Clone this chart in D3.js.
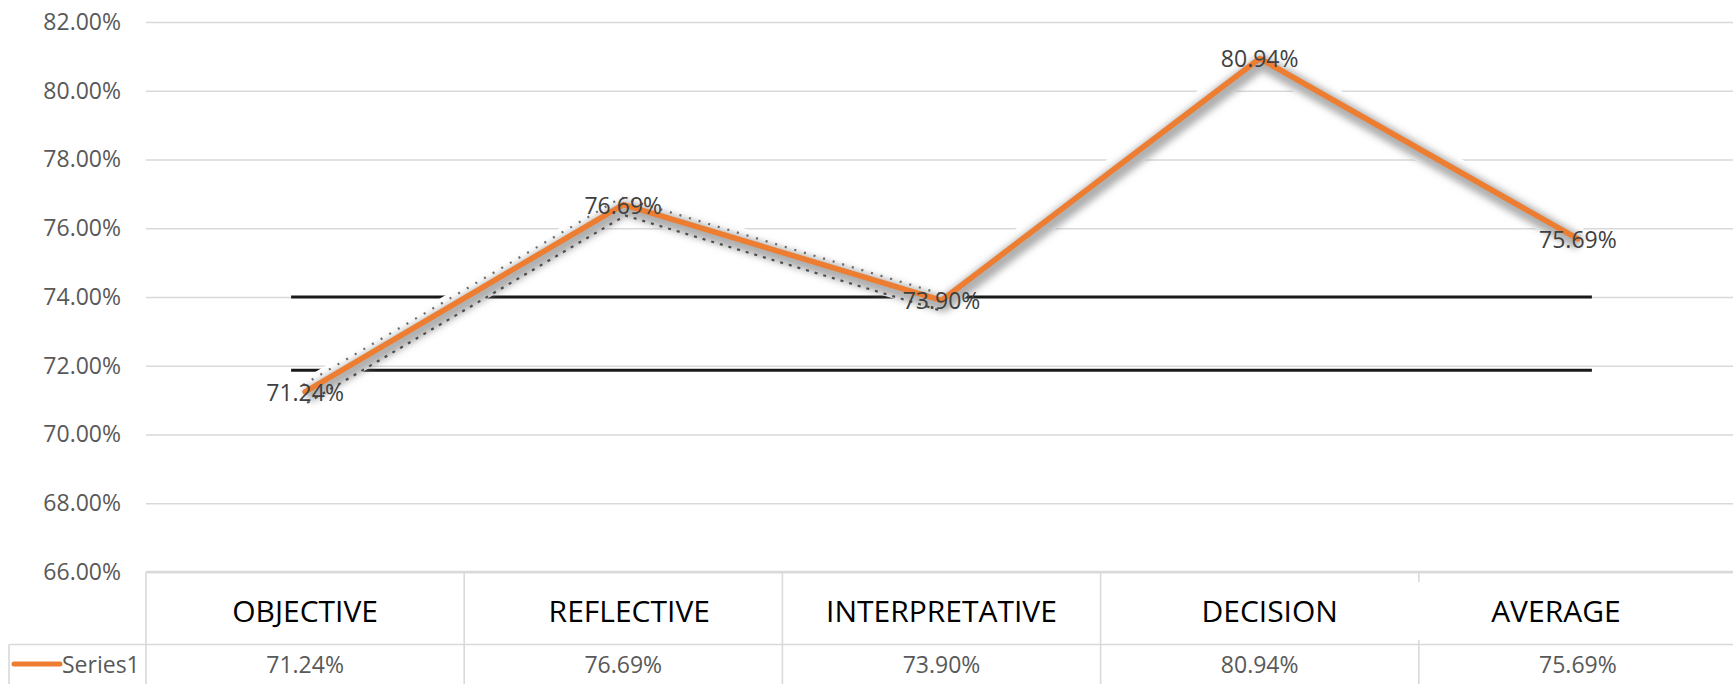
<!DOCTYPE html>
<html><head><meta charset="utf-8">
<script src="https://cdn.jsdelivr.net/npm/d3@7/dist/d3.min.js"></script>
<style>html,body{margin:0;padding:0;background:#fff;overflow:hidden}</style>
</head><body>
<svg id="c" width="1733" height="684"></svg>
<script>
const categories = ["OBJECTIVE","REFLECTIVE","INTERPRETATIVE","DECISION","AVERAGE"];
const series1 = [71.24, 76.69, 73.90, 80.94, 75.69];
const seriesName = "Series1";
const yTicks = [66,68,70,72,74,76,78,80,82];
const refLines = [74.0, 71.87];

(function(){
const W = 1733, H = 684;
const pL = 146, pR = 1737, pT = 22, pB = 572;
const rowSplit = 644.5;
const font = "'Open Sans', sans-serif";
const svg = d3.select("#c");
const fmt = v => v.toFixed(2) + "%";
const catShift = [0, 6, 0, 10, -22]; // label nudges as in the reference

const x = d3.scaleBand().domain(categories).range([pL, pR]);
const y = d3.scaleLinear().domain([66, 82]).range([pB, pT]);
const cx = c => x(c) + x.bandwidth()/2;

// gridlines
const yAxis = d3.axisLeft(y).tickValues(yTicks).tickFormat(fmt).tickSize(-(pR-pL)).tickPadding(25);
const ga = svg.append("g").attr("transform", `translate(${pL},0)`).call(yAxis);
ga.select(".domain").remove();
ga.selectAll(".tick line").attr("stroke", "#d9d9d9").attr("stroke-width", 1.6);
ga.selectAll(".tick text").attr("fill", "#595959").style("font-family", font).style("font-size", "23px");

// dark reference lines
const rx0 = cx(categories[0]) - 14, rx1 = cx(categories[categories.length-1]) + 14;
svg.append("g").selectAll("line").data(refLines).join("line")
  .attr("x1", rx0).attr("x2", rx1).attr("y1", d => y(d)).attr("y2", d => y(d))
  .attr("stroke", "#1a1a1a").attr("stroke-width", 3);

// shadow
const defs = svg.append("defs");
defs.append("filter").attr("id","blur").attr("x","-10%").attr("y","-10%").attr("width","120%").attr("height","120%")
  .append("feGaussianBlur").attr("stdDeviation", 3.5);
const line = d3.line().x((d,i) => cx(categories[i])).y(d => y(d));
const firstPart = series1.slice(0, 3);
svg.append("path").datum(series1).attr("d", line).attr("fill","none")
  .attr("stroke","#fff").attr("stroke-width",24).attr("stroke-linejoin","round");
svg.append("path").datum(series1).attr("d", line).attr("fill","none")
  .attr("transform","translate(2,4)")
  .attr("stroke","#7a7a7a").attr("stroke-opacity",0.6).attr("stroke-width",15)
  .attr("stroke-linejoin","round").attr("filter","url(#blur)");
svg.append("path").datum(firstPart).attr("d", line).attr("fill","none")
  .attr("transform","translate(2,11)")
  .attr("stroke","#222").attr("stroke-width",2.2).attr("stroke-dasharray","3,6").attr("stroke-opacity",0.75);
svg.append("path").datum(firstPart).attr("d", line).attr("fill","none")
  .attr("transform","translate(-2,-7)")
  .attr("stroke","#222").attr("stroke-width",2.2).attr("stroke-dasharray","2,8").attr("stroke-opacity",0.65);

// main line
svg.append("path").datum(series1).attr("d", line).attr("fill","none")
  .attr("stroke","#ED7D31").attr("stroke-width",5.5).attr("stroke-linejoin","round").attr("stroke-linecap","round");

// data labels
svg.append("g").selectAll("text").data(series1).join("text")
  .attr("x", (d,i) => cx(categories[i])).attr("y", d => y(d))
  .attr("text-anchor","middle").attr("dominant-baseline","central")
  .attr("fill","#404040").style("font-family", font).style("font-size","23px")
  .text(fmt);

// data table
const tb = svg.append("g").attr("stroke","#d9d9d9").attr("stroke-width",1.6);
tb.append("line").attr("x1",pL).attr("x2",W).attr("y1",pB).attr("y2",pB).attr("stroke-width",2.4);
tb.append("line").attr("x1",9).attr("x2",W).attr("y1",rowSplit).attr("y2",rowSplit);
tb.append("line").attr("x1",9).attr("x2",9).attr("y1",rowSplit).attr("y2",H);
tb.selectAll(".v").data(categories).join("line").attr("class","v")
  .attr("x1", d => x(d)).attr("x2", d => x(d)).attr("y1", pB).attr("y2", H)
  .attr("stroke-dasharray", (d,i) => i === categories.length-1 ? "10,58,200" : null);

svg.append("g").selectAll("text").data(categories).join("text")
  .attr("x", (d,i) => cx(d) + catShift[i]).attr("y", 622).attr("text-anchor","middle")
  .attr("fill","#000").style("font-family", font).style("font-size","30px").text(d => d);

svg.append("g").selectAll("text").data(series1).join("text")
  .attr("x", (d,i) => cx(categories[i])).attr("y", 673).attr("text-anchor","middle")
  .attr("fill","#595959").style("font-family", font).style("font-size","23px").text(fmt);

svg.append("line").attr("x1",14).attr("x2",60).attr("y1",664).attr("y2",664)
  .attr("stroke","#ED7D31").attr("stroke-width",5).attr("stroke-linecap","round");
svg.append("text").attr("x",62).attr("y",673).attr("fill","#595959")
  .style("font-family", font).style("font-size","23px").text(seriesName);
})();
</script>
</body></html>
